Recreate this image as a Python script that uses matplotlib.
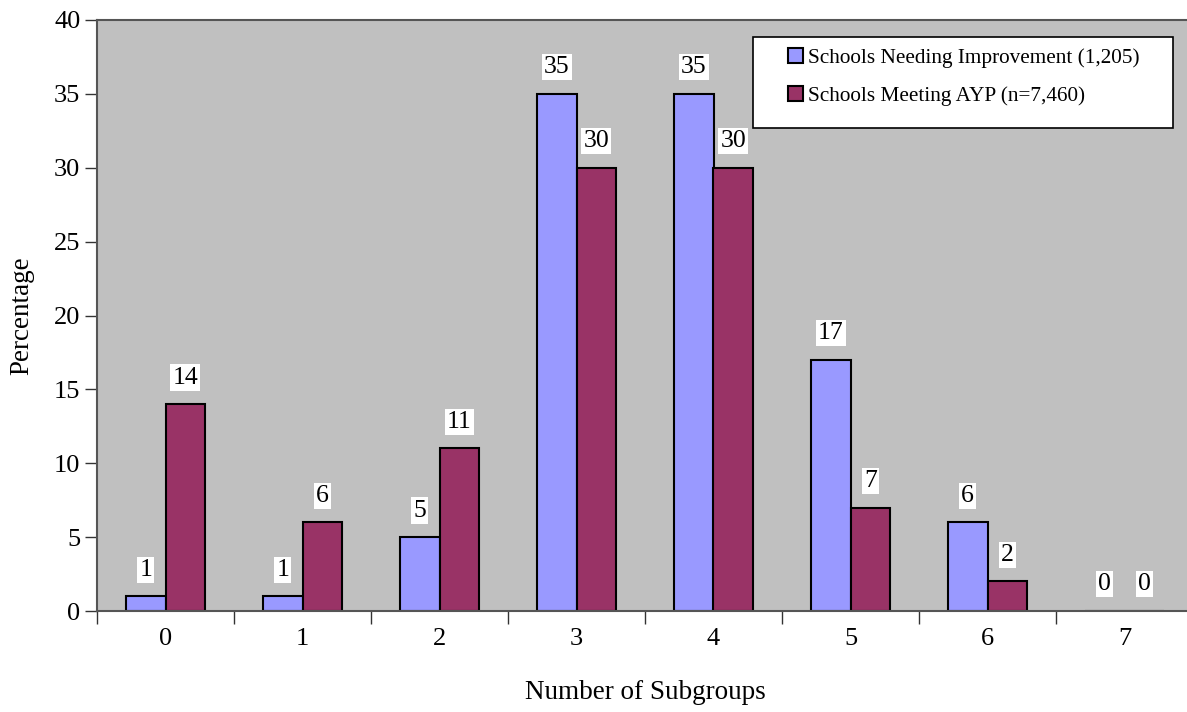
import numpy as np
import matplotlib.pyplot as plt
from matplotlib.patches import Rectangle

# data
subgroups = ['0', '1', '2', '3', '4', '5', '6', '7']
needing_improvement = [1, 1, 5, 35, 35, 17, 6, 0]
meeting_ayp = [14, 6, 11, 30, 30, 7, 2, 0]

plt.rcParams['font.family'] = ['Liberation Serif', 'DejaVu Serif']

fig = plt.figure(figsize=(11.87, 7.12), dpi=100)
ax = fig.add_axes([97 / 1187, 101 / 712, 1096 / 1187, 591 / 712])
ax.set_facecolor('#C0C0C0')

x = np.arange(len(subgroups))
w = 0.29
b1 = ax.bar(x - w / 2, needing_improvement, w, color='#9999FF', edgecolor='black', linewidth=1.5,
            label='Schools Needing Improvement (1,205)')
b2 = ax.bar(x + w / 2, meeting_ayp, w, color='#993366', edgecolor='black', linewidth=1.5,
            label='Schools Meeting AYP (n=7,460)')

for bars, vals in ((b1, needing_improvement), (b2, meeting_ayp)):
    for r, v in zip(bars, vals):
        ax.text(r.get_x() + r.get_width() / 2, v + 1.8, str(v), ha='center', va='center',
                fontsize=18.5, bbox=dict(facecolor='white', edgecolor='none', pad=1.5))

ax.set_xlim(-0.5, 7.5)
ax.set_ylim(0, 40)
ax.set_yticks(range(0, 41, 5))
ax.set_xticks(np.arange(-0.5, 8, 1))
ax.set_xticklabels([])
ax.set_xticks(x, minor=True)
ax.set_xticklabels(subgroups, minor=True)
ax.tick_params(axis='x', which='major', direction='out', length=9, width=1, color='#333333')
ax.tick_params(axis='x', which='minor', length=0, pad=12, labelsize=19)
ax.tick_params(axis='y', direction='out', length=9, width=1, color='#333333', labelsize=19, pad=3)

for s in ('left', 'bottom', 'top'):
    ax.spines[s].set_color('#555555')
    ax.spines[s].set_linewidth(1.5)
ax.spines['right'].set_visible(False)

ax.set_ylabel('Percentage', fontsize=19.5, labelpad=14)
ax.set_xlabel('Number of Subgroups', fontsize=19.5, labelpad=22)

# legend box drawn separately so its padding matches the original
frame = Rectangle((753 / 1187, (712 - 128) / 712), 420 / 1187, 91 / 712, transform=fig.transFigure,
                  facecolor='white', edgecolor='black', linewidth=1.2, zorder=5, clip_on=False)
ax.add_patch(frame)
leg = ax.legend(loc='upper left', bbox_to_anchor=(788 / 1187, (712 - 48) / 712),
                bbox_transform=fig.transFigure, fontsize=15.3, frameon=False,
                handlelength=0.7, handleheight=0.7, handletextpad=0.25,
                labelspacing=0.85, borderpad=0, borderaxespad=0)
leg.set_zorder(6)

fig.savefig('out.png', dpi=100)
